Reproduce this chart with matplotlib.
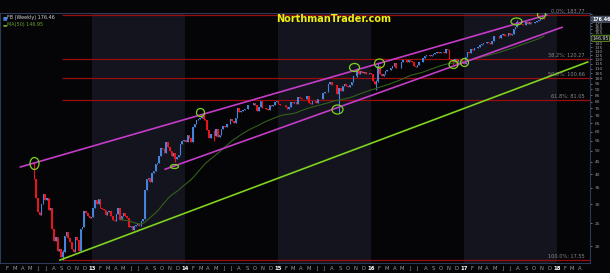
import pandas as pd
import matplotlib
matplotlib.use("Agg")
import matplotlib.pyplot as plt
import matplotlib.dates as mdates
from matplotlib.path import Path
from matplotlib.transforms import Affine2D

# Weekly closes (FB weekly, May 2012 - Nov 2017)
closes_2012 = [38.23, 31.91, 27.72, 27.10, 30.01, 33.05, 31.10, 31.73, 28.25, 28.76,
               23.71, 21.09, 21.81, 19.05, 19.41, 18.06, 18.98, 22.00, 22.86, 21.66,
               20.91, 19.52, 19.00, 21.94, 21.18, 19.21, 23.56, 24.00, 28.00, 27.49,
               26.81, 26.26, 26.62]
closes_2013 = [28.76, 31.30, 30.14, 31.54, 28.91, 28.55, 28.32, 27.13, 27.78, 27.96,
               26.65, 25.73, 25.58, 27.39, 28.79, 25.73, 26.85, 27.57, 26.68, 26.25,
               23.99, 24.35, 23.29, 24.37, 24.53, 24.88, 24.37, 25.48, 25.88, 34.36,
               38.05, 38.50, 37.08, 40.55, 41.29, 43.95, 44.31, 47.49, 51.24, 51.04,
               49.11, 54.22, 51.95, 49.75, 47.53, 49.01, 46.23, 47.01, 47.94, 53.32,
               55.12, 55.44]
closes_2014 = [54.56, 57.94, 56.30, 54.45, 62.57, 64.32, 67.09, 68.06, 68.46, 69.80,
               67.72, 67.24, 60.97, 56.75, 58.53, 58.94, 57.71, 61.48, 57.24, 58.02,
               61.35, 63.30, 62.50, 64.50, 64.50, 67.60, 66.29, 64.97, 68.42, 75.19,
               72.36, 73.06, 73.63, 74.57, 74.82, 77.26, 77.48, 77.91, 78.79, 77.44,
               72.91, 75.95, 80.67, 74.99, 75.60, 74.88, 73.75, 77.70, 76.84, 77.83,
               79.88, 80.77]
closes_2015 = [78.45, 77.74, 77.83, 77.65, 75.91, 74.60, 75.74, 79.90, 78.97, 80.01,
               78.05, 83.80, 83.30, 82.32, 82.04, 82.04, 84.63, 78.77, 78.10, 80.41,
               80.55, 79.19, 82.44, 81.81, 82.51, 87.23, 87.95, 87.55, 94.97, 96.95,
               94.01, 94.30, 94.19, 86.06, 91.01, 88.26, 92.90, 94.40, 92.77, 92.07,
               94.01, 97.00, 102.19, 101.97, 108.76, 104.35, 107.32, 105.45, 106.22, 104.04,
               104.04, 105.02]
closes_2016 = [104.66, 97.33, 94.97, 97.94, 112.21, 104.07, 102.01, 104.57, 107.92, 108.39,
               108.66, 111.02, 112.95, 116.06, 110.63, 110.51, 110.10, 117.58, 119.81, 119.81,
               117.65, 119.38, 118.47, 116.62, 113.02, 112.08, 114.19, 117.24, 116.86, 121.63,
               123.94, 125.15, 124.96, 123.56, 124.96, 126.51, 127.10, 129.07, 127.96, 128.27,
               128.99, 127.88, 132.07, 131.29, 120.75, 119.02, 117.02, 120.38, 115.40, 119.68,
               119.87, 117.26, 115.05]
closes_2017 = [123.41, 128.34, 127.04, 132.18, 130.98, 134.19, 133.53, 135.44, 137.42, 139.14,
               139.84, 140.34, 142.05, 140.78, 139.39, 143.68, 150.25, 150.24, 150.33, 148.06,
               152.13, 153.63, 149.60, 150.64, 155.07, 150.98, 153.42, 159.97, 164.43, 172.45,
               171.97, 168.08, 167.41, 166.32, 172.02, 169.15, 171.64, 170.54, 170.87, 172.23,
               173.74, 174.98, 177.88, 178.92, 176.46]
first_open = 42.05

# notable wicks (high, low) visible on the chart
wicks = {
    "2012-05-18": (45.00, 38.00),
    "2012-09-07": (19.40, 17.55),
    "2013-11-22": (49.10, 44.80),
    "2014-03-14": (72.59, 67.00),
    "2014-04-25": (61.00, 54.66),
    "2015-08-28": (91.50, 72.00),
    "2015-11-06": (110.65, 101.50),
    "2016-01-22": (98.50, 89.37),
    "2016-01-29": (117.59, 97.00),
    "2016-11-18": (120.00, 113.55),
    "2017-07-28": (175.49, 163.00),
    "2017-11-03": (180.80, 176.00),
}

ma_last = 146.95
last_close = 176.46

fib_pct = ["0.0%", "38.2%", "50.0%", "61.8%", "100.0%"]
fib_vals = [183.77, 120.27, 100.66, 81.05, 17.55]
fib_start = "2012-09-04"

# channel / support lines: (date, price) end points
upper_line = (["2012-03-24", "2017-11-21"], [42.8, 183.8])
lower_line = (["2013-10-14", "2018-01-20"], [41.9, 163.3])
support_line = (["2012-08-27", "2018-05-01"], [17.54, 117.1])

# green marker ovals: date, price, width px, height px
oval_dates = ["2012-05-16", "2013-11-18", "2014-02-28", "2015-08-20", "2015-10-26",
              "2016-02-01", "2016-11-18", "2016-12-31", "2017-07-23", "2017-10-29"]
oval_prices = [44.4, 43.2, 72.5, 74.6, 111.3, 116.3, 114.9, 117.0, 173.5, 185.5]
oval_w = [9, 8, 8, 11, 10, 10, 9, 8, 11, 8]
oval_h = [12, 4, 8, 9, 8, 9, 8, 8, 7, 8]

closes = closes_2012 + closes_2013 + closes_2014 + closes_2015 + closes_2016 + closes_2017
dates = pd.date_range("2012-05-18", periods=len(closes), freq="W-FRI")
opens = [first_open] + closes[:-1]
highs = [max(o, c) for o, c in zip(opens, closes)]
lows = [min(o, c) for o, c in zip(opens, closes)]
body_lo = list(lows)
for i, d in enumerate(dates):
    k = d.strftime("%Y-%m-%d")
    if k in wicks:
        highs[i], lows[i] = wicks[k]
ma50 = pd.Series(closes).rolling(50).mean()

bg = "#050507"
fig = plt.figure(figsize=(6.1, 2.73), dpi=100, facecolor=bg)
ax = fig.add_axes([0, 10 / 273, 590 / 610, 250 / 273])
ax.set_facecolor(bg)
ax.set_yscale("log")
ax.set_xlim(pd.Timestamp("2012-01-04"), pd.Timestamp("2018-05-10"))
ax.set_ylim(17.05, 187.3)

for yr in [2013, 2015, 2017]:
    ax.axvspan(pd.Timestamp(f"{yr}-01-01"), pd.Timestamp(f"{yr + 1}-01-01"),
               color="#14141f", zorder=0, lw=0)

x_end = ax.get_xlim()[1]
for p, v in zip(fib_pct, fib_vals):
    ax.hlines(v, mdates.date2num(pd.Timestamp(fib_start)), x_end, color="#9a0d0d", lw=0.9, zorder=1)
    ax.text(pd.Timestamp("2018-04-20"), v * 1.012, f"{p}: {v:.2f}", color="#8a8a8a",
            fontsize=3.6, ha="right", va="bottom", zorder=5)

up_c, dn_c = "#4484dc", "#e8161a"
cols = [up_c if c >= o else dn_c for o, c in zip(opens, closes)]
ax.vlines(dates, lows, highs, colors=cols, lw=0.8, zorder=2)
ax.bar(dates, [abs(c - o) for o, c in zip(opens, closes)], bottom=body_lo,
       width=6, color=cols, lw=0, zorder=2)

ax.plot(dates, ma50, color="#33601a", lw=0.8, zorder=3)

for line, col in [(upper_line, "#c43cc8"), (lower_line, "#c43cc8"), (support_line, "#7fd21e")]:
    ax.plot(pd.to_datetime(line[0]), line[1], color=col, lw=1.2, zorder=4)

for d, p, w, h in zip(oval_dates, oval_prices, oval_w, oval_h):
    m = Path.unit_circle().transformed(Affine2D().scale(w, h))
    ax.plot(pd.Timestamp(d), p, marker=m, markersize=max(w, h) * 0.72, mfc="none",
            mec="#7fd21e", mew=0.9, zorder=5)

# axes styling
for s in ax.spines.values():
    s.set_color("#2c3a58")
    s.set_linewidth(0.8)
ax.yaxis.tick_right()
yt = list(range(20, 190, 5))
hidden = {145, 150, 175, 180, 185}  # covered by the price boxes
ax.yaxis.set_major_locator(matplotlib.ticker.FixedLocator(yt))
ax.yaxis.set_minor_locator(matplotlib.ticker.NullLocator())
ax.set_yticklabels(["" if v in hidden else str(v) for v in yt])
ax.tick_params(axis="y", colors="#9a9a9a", labelsize=3.2, length=1.5, width=0.5, pad=2)

months = pd.date_range("2012-02-01", "2018-04-01", freq="MS")
ax.xaxis.set_major_locator(matplotlib.ticker.FixedLocator(mdates.date2num(months)))
labels = [m.strftime("%y") if m.month == 1 else m.strftime("%b")[0] for m in months]
ax.set_xticklabels(labels)
ax.tick_params(axis="x", colors="#9a9a9a", labelsize=3.8, length=0, pad=2)
for lab, m in zip(ax.get_xticklabels(), months):
    if m.month == 1:
        lab.set_color("white")
        lab.set_fontweight("bold")

# price boxes on the right axis
ytr = ax.get_yaxis_transform()
ax.text(1.004, last_close, f"{last_close:.2f}", transform=ytr, fontsize=3.4, color="white",
        fontweight="bold", va="center", ha="left", clip_on=False, zorder=6,
        bbox=dict(boxstyle="round,pad=0.12", fc="#3c4556", ec="#5a6478", lw=0.5))
ax.text(1.004, ma_last, f"{ma_last:.2f}", transform=ytr, fontsize=3.4, color="#cfcfcf",
        va="center", ha="left", clip_on=False, zorder=6,
        bbox=dict(boxstyle="round,pad=0.12", fc="#101410", ec="#6aa02a", lw=0.6))

# header legend
ax.text(0.004, 0.99, "\u25a0", transform=ax.transAxes, color=up_c, fontsize=3.5, va="top")
ax.text(0.012, 0.99, f"FB (Weekly) {last_close:.2f}", transform=ax.transAxes, color="#d0d0d0",
        fontsize=3.5, va="top")
ax.text(0.004, 0.965, "\u25ac", transform=ax.transAxes, color="#6aa02a", fontsize=3.5, va="top")
ax.text(0.012, 0.965, f"MA(50) {ma_last:.2f}", transform=ax.transAxes, color="#6aa02a",
        fontsize=3.5, va="top")

ax.text(0.566, 0.978, "NorthmanTrader.com", transform=ax.transAxes, color="#f0ee10",
        fontsize=7, fontweight="bold", ha="center", va="center", zorder=6)

plt.savefig("out.png", dpi=100, facecolor=bg)
